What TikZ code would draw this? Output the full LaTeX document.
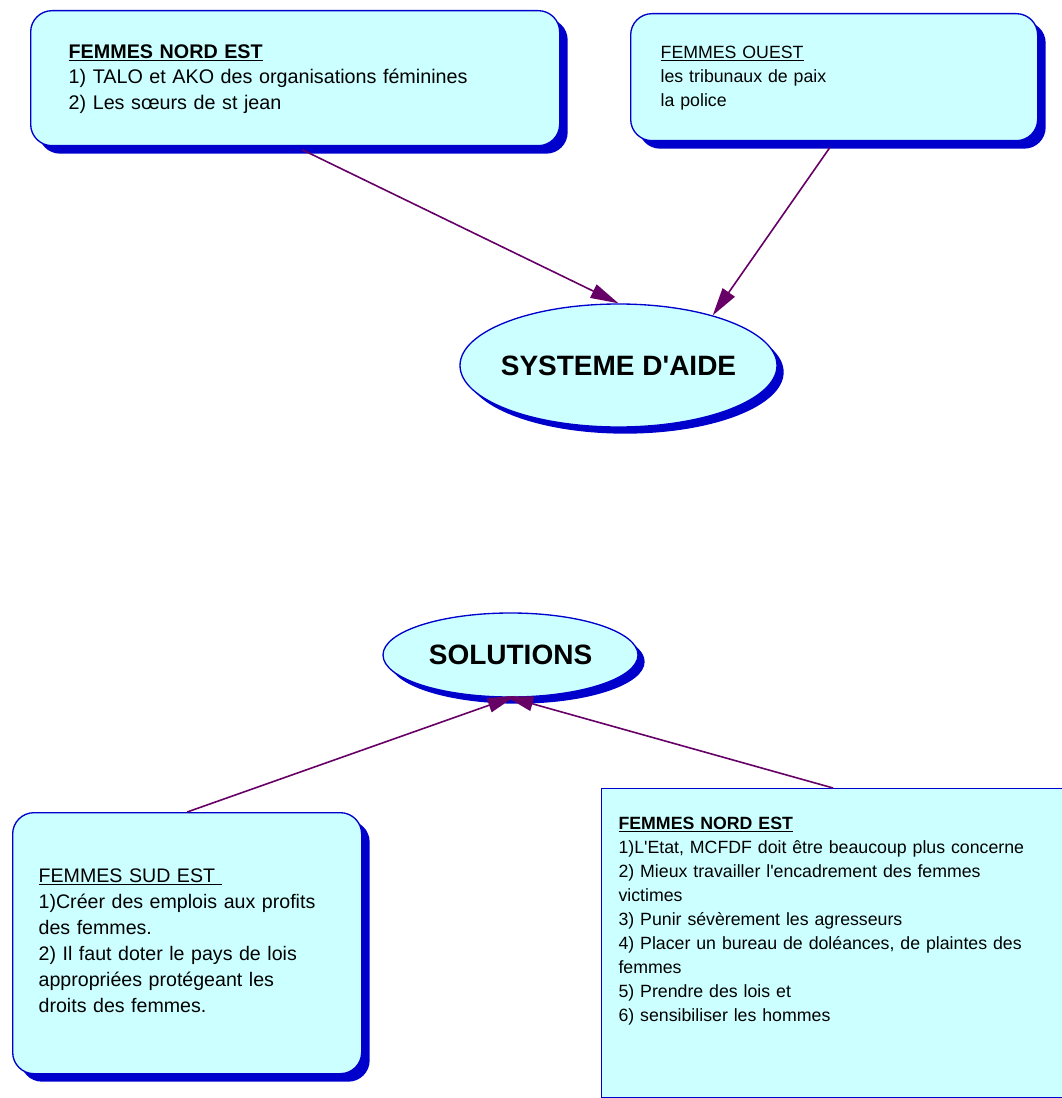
\documentclass[tikz,border=0pt]{standalone}
\usepackage{fontspec}
\setmainfont{Liberation Sans}
\usetikzlibrary{shapes.geometric,shadows,arrows.meta}
\definecolor{boxfill}{RGB}{204,255,255}
\definecolor{boxline}{RGB}{0,0,204}
\definecolor{linkcol}{RGB}{102,0,102}

\begin{document}
\begin{tikzpicture}[x=0.75pt,y=-0.75pt]
 \tikzset{plain box/.style={
    draw=boxline, fill=boxfill, line width=0.8pt,
    anchor=north west,
    align=left,
    inner ysep=0pt
  },
  note box/.style={
    plain box, line width=1pt,
    rounded corners=16pt,
    general shadow={fill=boxline, shadow xshift=6pt, shadow yshift=-6pt}
  },
  bubble/.style={
    ellipse, draw=boxline, fill=boxfill, line width=1pt,
    inner sep=0pt,
    font=\fontsize{21}{25}\selectfont\bfseries,
    general shadow={fill=boxline, shadow xshift=5pt, shadow yshift=-5pt}
  },
  link/.style={draw=linkcol, line width=1.2pt,
    -{Triangle[length=21pt,width=11pt]}}
}
\useasboundingbox (0,0) rectangle (1061,1098);

% upper half
\node[note box, text width=339.75pt, inner xsep=28.5pt,
  text height=36pt, text depth=65.25pt,
  font=\fontsize{14.8}{19}\selectfont] (nordest) at (30,10)
  {\textbf{\underline{FEMMES NORD EST}}\\
   1) TALO et AKO des organisations féminines\\
   2) Les sœurs de st jean};
\node[note box, text width=260.25pt, inner xsep=22.5pt,
  text height=33.75pt, text depth=61.5pt,
  font=\fontsize{13.3}{18}\selectfont] (ouest) at (630,13)
  {\underline{FEMMES OUEST}\\
   les tribunaux de paix\\
   la police};
\node[bubble, inner xsep=-6pt, minimum width=237.75pt, minimum height=92.25pt] (aide) at (618.5,365.5) {SYSTEME D\textquotesingle AIDE};

% lower half
\node[bubble, minimum width=191.25pt, minimum height=63pt] (solutions) at (510.5,655) {SOLUTIONS};
\node[note box, text width=222.75pt, inner xsep=19.5pt,
  text height=52.5pt, text depth=143.25pt,
  font=\fontsize{14.7}{19.5}\selectfont] (sudest) at (12,812)
  {\underline{FEMMES SUD EST\ }\\
   1)Créer des emplois aux profits\\
   des femmes.\\
   2) Il faut doter le pays de lois\\
   appropriées protégeant les\\
   droits des femmes.};
\node[plain box, text width=321.75pt, inner xsep=12.75pt,
  text height=30.75pt, text depth=201pt,
  font=\fontsize{13.3}{18}\selectfont] (nordestbis) at (601,788)
  {\textbf{\underline{FEMMES NORD EST}}\\
   1)L\textquotesingle Etat, MCFDF doit être beaucoup plus concerne\\
   2) Mieux travailler l\textquotesingle encadrement des femmes\\
   victimes\\
   3) Punir sévèrement les agresseurs\\
   4) Placer un bureau de doléances, de plaintes des\\
   femmes\\
   5) Prendre des lois et\\
   6) sensibiliser les hommes};

% links
\draw[link, shorten <=6pt] (nordest.south) -- (aide.north);
\draw[link, shorten <=6pt] (ouest.south) -- (aide.28);
\draw[link, shorten >=-4pt] (sudest.north) -- (solutions.south);
\draw[link, shorten >=-4pt] (nordestbis.north) -- (solutions.south);
\end{tikzpicture}
\end{document}
